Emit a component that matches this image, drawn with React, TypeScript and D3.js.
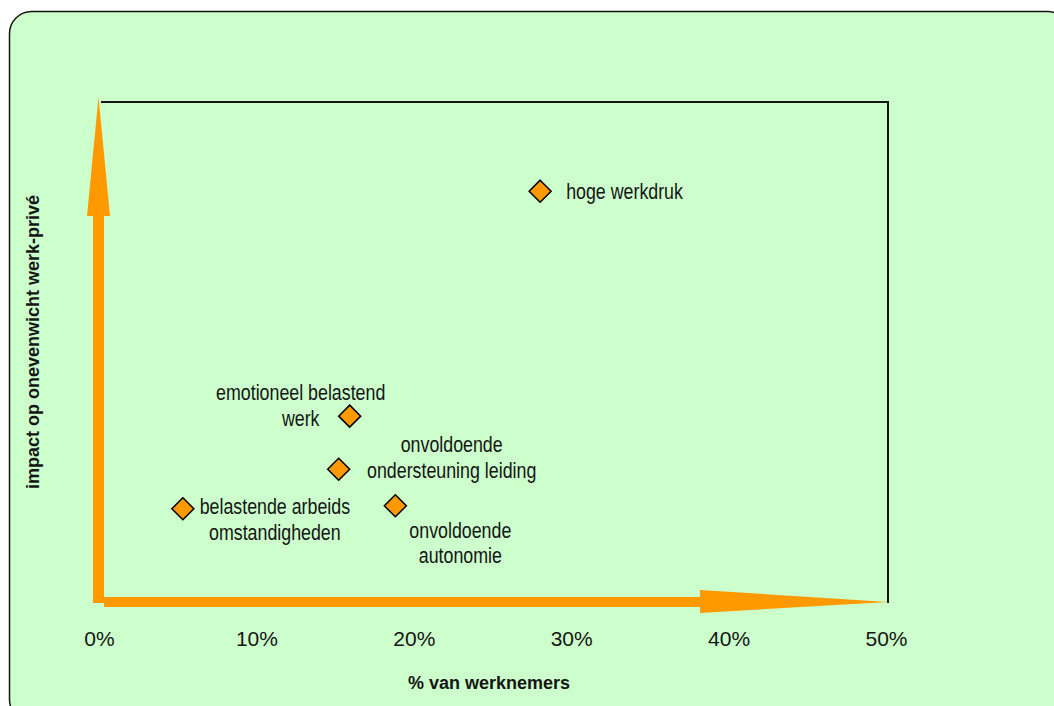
import { scaleLinear } from "d3";

// values (x = % van werknemers, y = relative impact, no scale shown)
const categories = [
  "hoge werkdruk",
  "emotioneel belastend werk",
  "onvoldoende ondersteuning leiding",
  "belastende arbeids omstandigheden",
  "onvoldoende autonomie",
];
const pctWorkers = [27.9, 15.8, 15.1, 5.2, 18.7];
const impact = [82.2, 37.3, 26.7, 18.8, 19.4];
const labelLines = [
  ["hoge werkdruk"],
  ["emotioneel belastend", "werk"],
  ["onvoldoende", "ondersteuning leiding"],
  ["belastende arbeids", "omstandigheden"],
  ["onvoldoende", "autonomie"],
];
const xTicks = [0, 10, 20, 30, 40, 50];

// label placement relative to each marker
const labelPos = [
  { dx: 26, dy: 0, anchor: "start" },
  { dx: -49, dy: -24, anchor: "middle" },
  { dx: 113, dy: -25, anchor: "middle" },
  { dx: 92, dy: -3, anchor: "middle" },
  { dx: 65, dy: 24, anchor: "middle" },
];

const width = 1054;
const height = 706;
const orange = "#FF9900";
const ink = "#151515";
const font = "'Liberation Sans', Arial, sans-serif";

export default function App() {
  const x = scaleLinear([0, 50], [101, 888]);
  const y = scaleLinear([0, 100], [603, 102]);

  const x0 = x(0);
  const y0 = y(0);
  const vx = x0 - 2.5;
  const vTip = y(100) - 5;
  const hTip = x(50);
  const hy = y0 - 1;

  const vArrow = [
    [vx - 5.5, y0],
    [vx - 5.5, vTip + 119],
    [vx - 11.5, vTip + 119],
    [vx, vTip],
    [vx + 11.5, vTip + 119],
    [vx + 5.5, vTip + 119],
    [vx + 5.5, y0],
  ];
  const hArrow = [
    [x0 + 3, hy - 5],
    [hTip - 188, hy - 5],
    [hTip - 188, hy - 12],
    [hTip, hy],
    [hTip - 188, hy + 11],
    [hTip - 188, hy + 5],
    [x0 + 3, hy + 5],
  ];
  const pts = (p: number[][]) => p.map((d) => d.join(",")).join(" ");
  const r = 11;

  return (
    <svg
      width={width}
      height={height}
      style={{ position: "absolute", left: 0, top: 0, background: "#fff" }}
    >
      <rect x={9.5} y={11.5} width={1060} height={710} rx={22} fill="#CCFFCC" stroke={ink} strokeWidth={1.5} />

      {/* plot frame, top and right sides */}
      <path d={`M${x0},${y(100)}H${x(50)}V${y0}`} fill="none" stroke={ink} strokeWidth={2} />

      <polygon points={pts(vArrow)} fill={orange} />
      <polygon points={pts(hArrow)} fill={orange} />

      {xTicks.map((t) => (
        <text key={t} x={x(t) - 1.5} y={646} textAnchor="middle" fontFamily={font} fontSize={21} fill={ink}>
          {t}%
        </text>
      ))}

      <text x={489} y={689} textAnchor="middle" fontFamily={font} fontSize={18} fontWeight="bold" fill={ink}>
        % van werknemers
      </text>
      <text
        transform={`translate(39,342) rotate(-90)`}
        textAnchor="middle"
        fontFamily={font}
        fontSize={18}
        fontWeight="bold"
        fill={ink}
      >
        impact op onevenwicht werk-privé
      </text>

      {categories.map((c, i) => {
        const cx = x(pctWorkers[i]);
        const cy = y(impact[i]);
        const lp = labelPos[i];
        return (
          <g key={c}>
            <path
              d={`M${cx},${cy - r}L${cx + r},${cy}L${cx},${cy + r}L${cx - r},${cy}Z`}
              fill={orange}
              stroke="#000"
              strokeWidth={1.5}
            />
            <g transform={`translate(${cx + lp.dx},${cy + lp.dy}) scale(0.81,1)`}>
              {labelLines[i].map((line, j) => (
                <text
                  key={j}
                  y={j * 26}
                  dy="0.35em"
                  textAnchor={lp.anchor}
                  fontFamily={font}
                  fontSize={22}
                  fill={ink}
                >
                  {line}
                </text>
              ))}
            </g>
          </g>
        );
      })}
    </svg>
  );
}
